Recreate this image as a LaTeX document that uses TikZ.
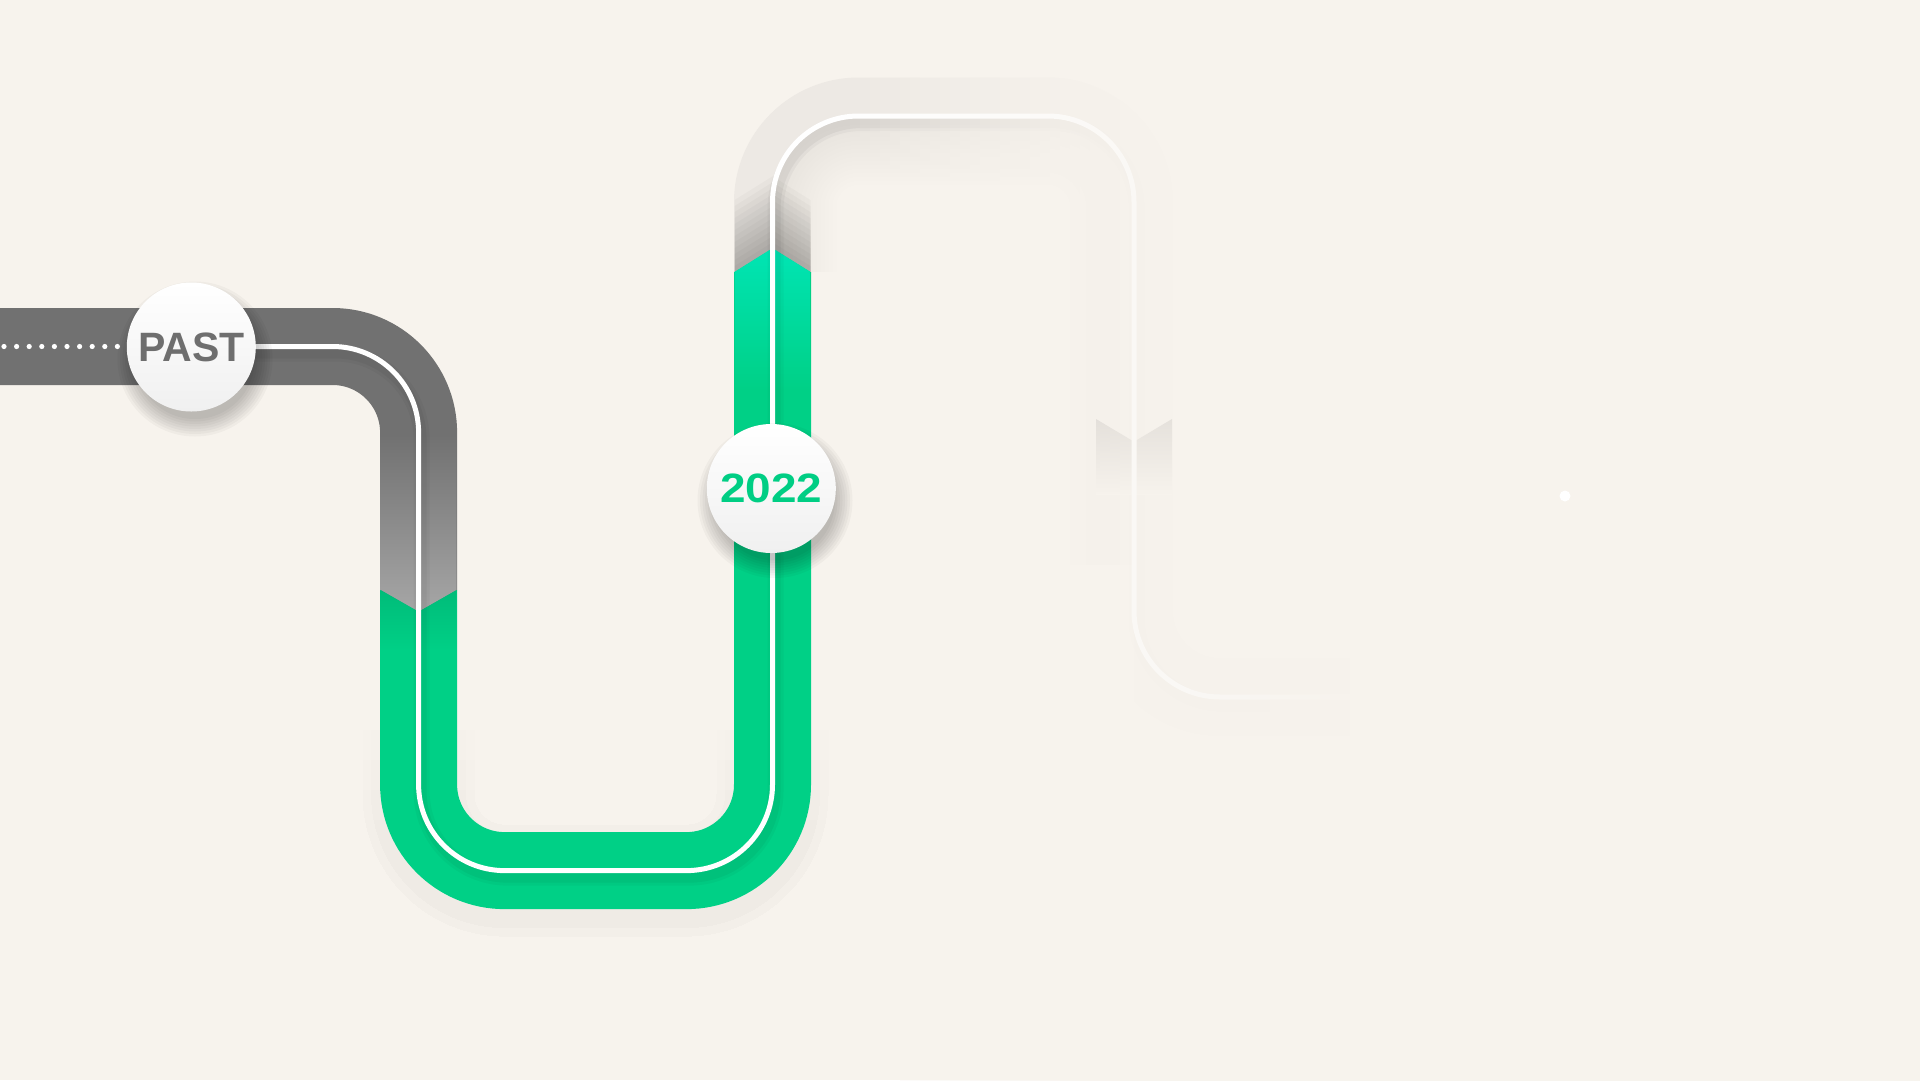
\documentclass[tikz,border=0pt]{standalone}
\usepackage{fontspec}
\setmainfont{Liberation Sans}
\newfontfamily\yearfont[FakeStretch=1.12]{Liberation Sans}
\definecolor{bgcol}{RGB}{247,243,237}
\definecolor{roadgray}{RGB}{113,113,113}
\definecolor{roadgraylight}{RGB}{166,166,166}
\definecolor{roadgreen}{RGB}{0,208,134}
\definecolor{roadgreendark}{RGB}{0,188,121}
\definecolor{roadcyan}{RGB}{0,229,180}
\definecolor{fadedroad}{RGB}{237,233,228}
\definecolor{chevshade}{RGB}{212,208,203}
\definecolor{labelgray}{RGB}{110,110,110}
\definecolor{labelgreen}{RGB}{0,206,132}
\definecolor{badgebottom}{RGB}{240,240,240}
\tikzset{
  road/.style={line width=77pt, rounded corners=86pt},
  centreline/.style={white, line width=5pt, rounded corners=86pt},
  badge/.style={circle, minimum size=129pt, inner sep=0pt, top color=white, bottom color=badgebottom},
  pastlabel/.style={font=\fontsize{41}{41}\selectfont\bfseries, text=labelgray},
  yearlabel/.style={font=\yearfont\fontsize{41}{41}\selectfont\bfseries, text=labelgreen},
  softshadow/.style={black, opacity=0.03},
}
\begin{document}
\begin{tikzpicture}[x=1pt,y=-1pt]
\useasboundingbox (0,0) rectangle (1920,1080);
\fill[bgcol] (0,0) rectangle (1920,1080);
% waypoints of the road centre line
\coordinate (w0) at (0,346.5);
\coordinate (w1) at (418.6,346.5);
\coordinate (w2) at (418.6,870.6);
\coordinate (w3) at (772.5,870.6);
\coordinate (w4) at (772.5,116);
\coordinate (w5) at (1134,116);
\coordinate (w6) at (1134,697);
\coordinate (w7) at (1360,697);
\coordinate (wl) at (250,346.5);
\coordinate (lb) at (772.5,1000);
\coordinate (rb) at (1134,1000);
\coordinate (lm) at (772.5,560);
\coordinate (rm) at (1134,560);
% soft shadow under the green U
\begin{scope}[transform canvas={shift={(0,10)}}]
  \foreach \k in {0,...,3} {
    \begin{scope}
      \clip (250,{720+30*\k}) rectangle (950,1080);
      \draw[black, opacity=0.004, line width=112pt, rounded corners=86pt] (418.6,600) -- (w2) -- (w3) -- (772.5,600);
      \draw[black, opacity=0.005, line width=95pt, rounded corners=86pt] (418.6,600) -- (w2) -- (w3) -- (772.5,600);
    \end{scope}
  }
\end{scope}
% faded (future) part of the road
\begin{scope}
  \clip (650,-10) -- (1930,-10) -- (1930,1090) -- (900,1090) -- (900,272) -- (810.5,272) -- (772.5,248.3) -- (734.5,272) -- (650,272) -- cycle;
  \draw[road, fadedroad] (w0) -- (w1) -- (w2) -- (w3) -- (w4) -- (w5) -- (w6) -- (w7);
  % inner half: background with the soft inner shadow of the centre line
  \begin{scope}
    \clip[rounded corners=86pt] (lb) -- (w4) -- (w5) -- (rb) -- cycle;
    \fill[bgcol] (700,0) rectangle (1200,1080);
    \begin{scope}[transform canvas={shift={(0,5)}}]
      \foreach \w in {8,16,...,128} {
        \draw[black, opacity=0.0042, line width=\w pt, rounded corners=86pt] (lm) -- (w4) -- (w5) -- (rm);
      }
    \end{scope}
  \end{scope}
  % soft shadow cast above the green chevron
  \begin{scope}
    \clip (734.5,0) rectangle (810.5,300);
    \foreach \h in {6,12,...,72} {
      \fill[black, opacity=0.022] (734.5,272-\h) -- (772.5,248.3-\h) -- (810.5,272-\h) -- (810.5,272) -- (772.5,248.3) -- (734.5,272) -- cycle;
    }
  \end{scope}
\end{scope}
% green (present) part
\begin{scope}
  \clip (300,590) -- (380.6,590) -- (418.6,611.7) -- (456.6,590) -- (650,590) -- (650,272) -- (734.5,272) -- (772.5,248.3) -- (810.5,272) -- (900,272) -- (900,1000) -- (300,1000) -- cycle;
  \draw[road, roadgreen] (w0) -- (w1) -- (w2) -- (w3) -- (w4) -- (w5) -- (w6) -- (w7);
\end{scope}
% gray (past) part
\begin{scope}
  \clip (-10,-10) -- (650,-10) -- (650,590) -- (456.6,590) -- (418.6,611.7) -- (380.6,590) -- (-10,590) -- cycle;
  \draw[road, roadgray] (w0) -- (w1) -- (w2) -- (w3) -- (w4) -- (w5) -- (w6) -- (w7);
\end{scope}
\shade[top color=roadgray, bottom color=roadgraylight] (380.6,434.5) -- (456.6,434.5) -- (456.6,590) -- (418.6,611.7) -- (380.6,590) -- cycle;
\shade[top color=roadgreendark, bottom color=roadgreen] (380.6,590) -- (418.6,611.7) -- (456.6,590) -- (456.6,650) -- (380.6,650) -- cycle;
\shade[top color=roadcyan, bottom color=roadgreen] (734.5,272) -- (772.5,248.3) -- (810.5,272) -- (810.5,390) -- (734.5,390) -- cycle;
% shadow of the centre line
\begin{scope}[transform canvas={shift={(3,7)}}]
  \foreach \w/\o in {16/0.03, 10/0.04} {
    \draw[black, opacity=\o, line width=\w pt, rounded corners=86pt] (wl) -- (w1) -- (w2) -- (w3) -- (w4) -- (w5) -- (w6) -- (w7);
  }
\end{scope}
% first fade of the future road
\begin{scope}
  \clip (650,-10) -- (1930,-10) -- (1930,1090) -- (900,1090) -- (900,272) -- (810.5,272) -- (772.5,248.3) -- (734.5,272) -- (650,272) -- cycle;
  \foreach \i in {0,...,27} {
    \pgfmathsetmacro\a{0.88*(\i+0.5)/28}
    \fill[bgcol, opacity=\a] ({840+10*\i},-10) rectangle ({850+10*\i},1090);
  }
  \fill[bgcol, opacity=0.88] (1120,-10) rectangle (1930,1090);
  \shade[top color=chevshade, bottom color=bgcol] (1096,419) -- (1134,441.7) -- (1172,419) -- (1172,495) -- (1096,495) -- cycle;
\end{scope}
% centre line
\draw[centreline] (wl) -- (w1) -- (w2) -- (w3) -- (w4) -- (w5) -- (w6) -- (w7);
% second fade
\begin{scope}
  \clip (650,-10) -- (1930,-10) -- (1930,1090) -- (900,1090) -- (900,272) -- (810.5,272) -- (772.5,248.3) -- (734.5,272) -- (650,272) -- cycle;
  \foreach \i in {0,...,27} {
    \pgfmathsetmacro\a{0.5*(\i+0.5)/28}
    \fill[bgcol, opacity=\a] ({840+10*\i},-10) rectangle ({850+10*\i},1090);
  }
  \fill[bgcol, opacity=0.5] (1120,-10) rectangle (1930,1090);
  \foreach \i in {0,...,15} {
    \pgfmathsetmacro\a{(\i+0.5)/16}
    \fill[bgcol, opacity=\a] ({1190+10*\i},640) rectangle ({1200+10*\i},760);
  }
  \fill[bgcol] (1350,640) rectangle (1930,760);
\end{scope}
% dotted line before PAST
\draw[white, line width=5.2pt, line cap=round, dash pattern=on 0pt off 12.6pt] (4,346.5) -- (125,346.5);
% badge shadows
\foreach \i in {0,...,7} {
  \fill[softshadow] (195,359) circle[radius=60+2.5*\i];
  \fill[softshadow] (775,500.5) circle[radius=60+2.5*\i];
}
% badges
\node[badge, pastlabel] (past) at (191.3,347) {PAST};
\node[badge, yearlabel] (year) at (771.3,488.5) {2022};
% small dot
\node[circle, fill=white, minimum size=11pt, inner sep=0pt] (dot) at (1565,496) {};
\end{tikzpicture}
\end{document}
